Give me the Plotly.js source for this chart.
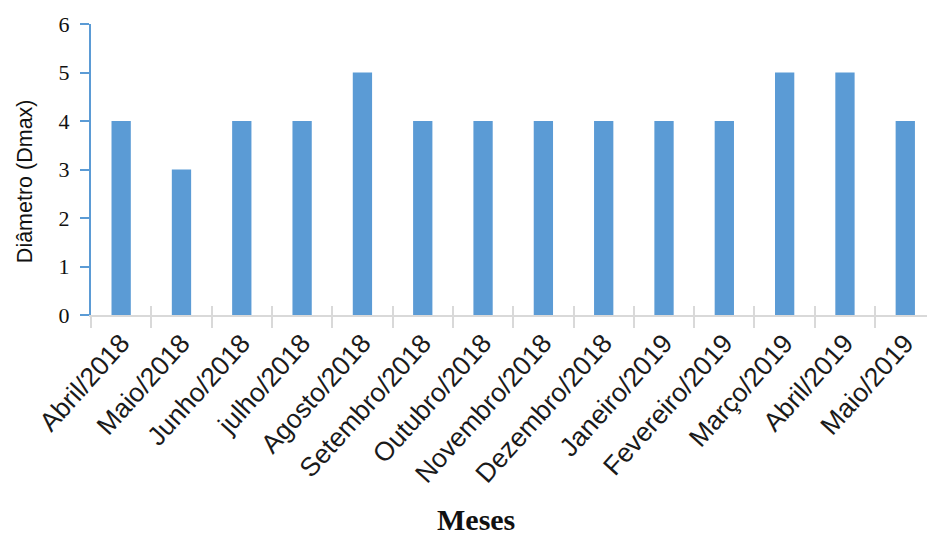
<!DOCTYPE html>
<html>
<head>
<meta charset="utf-8">
<script src="https://cdn.plot.ly/plotly-3.0.1.min.js"></script>
<style>html,body{margin:0;padding:0;background:#fff;}#chart{width:927px;height:538px;}</style>
</head>
<body>
<div id="chart"></div>
<script>
// Monthly maximum diameter readings
const months = ["Abril/2018","Maio/2018","Junho/2018","julho/2018","Agosto/2018","Setembro/2018","Outubro/2018",
  "Novembro/2018","Dezembro/2018","Janeiro/2019","Fevereiro/2019","Março/2019","Abril/2019","Maio/2019"];
const dmax = [4,3,4,4,5,4,4,4,4,4,4,5,5,4];
const yTicks = [0,1,2,3,4,5,6];

const barColor = "#5b9bd5";
const gridGray = "#d9d9d9";

const traces = [
  {type:"bar", x:months, y:dmax, width:0.32, marker:{color:barColor}, hoverinfo:"x+y"},
  // helper trace on the overlay axis so its inside tick marks are drawn
  {type:"scatter", x:months, y:dmax, xaxis:"x2", yaxis:"y", mode:"none", showlegend:false, hoverinfo:"skip"}
];

const xRange = [-0.5, 13.36];
const layout = {
  width:927, height:538,
  margin:{l:91, r:0, t:24, b:223},
  paper_bgcolor:"#fff", plot_bgcolor:"#fff",
  showlegend:false,
  xaxis:{
    type:"category", range:xRange, tickson:"boundaries",
    ticks:"outside", ticklen:11, tickcolor:gridGray, tickwidth:2,
    showline:true, linecolor:gridGray, linewidth:2,
    showgrid:false, zeroline:false,
    tickangle:-48,
    tickfont:{family:"Liberation Sans, Arial, sans-serif", size:26.5, color:"#1a1a1a"}
  },
  xaxis2:{
    type:"category", range:xRange, overlaying:"x", anchor:"y", side:"bottom",
    tickson:"boundaries", ticks:"inside", ticklen:9, tickcolor:gridGray, tickwidth:2,
    showticklabels:false, showline:false, showgrid:false, zeroline:false,
    categoryarray:months, categoryorder:"array"
  },
  yaxis:{
    range:[0,6], tickvals:yTicks, ticktext:yTicks.map(String),
    ticks:"outside", ticklen:9, tickcolor:barColor, tickwidth:2,
    showline:true, linecolor:barColor, linewidth:2,
    showgrid:false, zeroline:false,
    ticklabelstandoff:6,
    tickfont:{family:"Liberation Serif, Times New Roman, serif", size:22, color:"#111"}
  },
  annotations:[
    {
      text:"Diâmetro (Dmax)", textangle:-90, showarrow:false,
      xref:"paper", yref:"paper", x:-66/836, y:0.46, xanchor:"center", yanchor:"middle",
      font:{family:"Liberation Sans, Arial, sans-serif", size:21.5, color:"#111"}
    },
    {
      text:"<b>Meses</b>", showarrow:false, borderpad:0,
      xref:"paper", yref:"paper", x:385/836, y:-204/291, xanchor:"center", yanchor:"middle",
      font:{family:"Liberation Serif, Times New Roman, serif", size:30, color:"#111"}
    }
  ]
};

Plotly.newPlot("chart", traces, layout, {displayModeBar:false, staticPlot:true});
</script>
</body>
</html>
